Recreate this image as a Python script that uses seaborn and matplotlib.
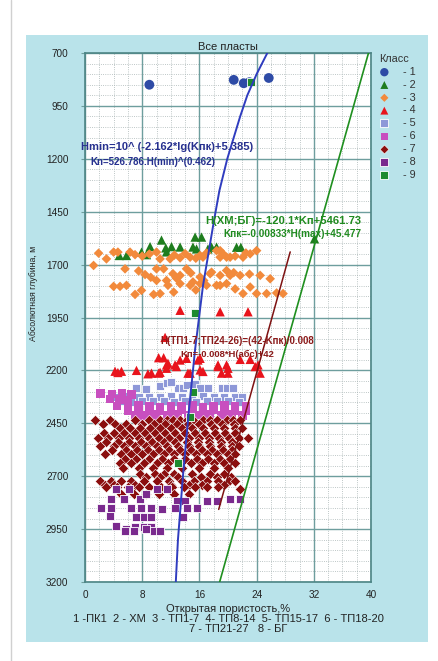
import numpy as np
import pandas as pd
import matplotlib
matplotlib.use('Agg')
import matplotlib.pyplot as plt
from matplotlib.patches import Rectangle
from matplotlib.lines import Line2D
from matplotlib.ticker import MultipleLocator
import seaborn as sns

# ---- данные (Кп, %; H, м) ----
k1 = [9.0, 20.8, 22.2, 23.0, 25.7]
h1 = [850, 827, 843, 838, 818]

k2 = [10.7, 9.1, 11.3, 12.1, 13.3, 15.4, 16.3, 15.1, 15.6, 11.4, 8.6, 4.8, 5.8,
      17.7, 18.4, 17.2, 21.2, 21.8, 7.9, 32.1]
h2 = [1584, 1615, 1621, 1615, 1617, 1570, 1570, 1617, 1626, 1640, 1653, 1657, 1657,
      1617, 1617, 1626, 1618, 1618, 1641, 1578]

k3 = [1.2, 1.9, 3.0, 4.0, 4.6, 6.3, 7.0, 10.0, 10.5, 11.9, 13.3, 14.7, 16.1, 16.5,
      18.9, 18.4, 18.9, 19.3, 19.8, 20.3, 22.1, 23.1, 24.0, 8.0, 9.0, 12.5, 14.0,
      15.5, 17.0, 21.0, 22.5,
      5.6, 8.4, 10.0, 11.0, 10.0, 11.4, 12.3, 13.3, 14.2, 15.1, 16.1, 17.5, 17.7,
      18.9, 19.8, 20.3, 21.7, 24.5, 25.9, 7.5, 9.2, 12.8, 14.8, 16.6, 20.8, 23.0,
      4.0, 4.9, 5.8, 7.0, 7.9, 9.6, 10.5, 11.6, 13.3, 14.7, 16.1, 17.0, 18.4, 18.9,
      19.8, 22.1, 23.1, 24.0, 25.4, 26.8, 27.7, 12.4, 15.5, 21.0]
h3 = [1704, 1646, 1673, 1641, 1641, 1641, 1653, 1641, 1673, 1673, 1668, 1665, 1657, 1665,
      1634, 1634, 1665, 1649, 1665, 1665, 1665, 1649, 1634, 1660, 1650, 1655, 1648,
      1670, 1645, 1660, 1645,
      1720, 1747, 1720, 1720, 1775, 1775, 1743, 1751, 1720, 1782, 1759, 1743, 1736,
      1751, 1728, 1751, 1751, 1751, 1767, 1730, 1760, 1765, 1740, 1775, 1738, 1745,
      1803, 1803, 1798, 1841, 1822, 1841, 1837, 1798, 1790, 1798, 1790, 1798, 1798, 1798,
      1790, 1837, 1806, 1837, 1837, 1834, 1837, 1830, 1820, 1815]

k4 = [13.3, 18.9, 22.8, 11.2, 10.3, 11.0, 11.4, 12.6, 13.3, 14.2, 15.8, 16.1, 18.6,
      19.8, 21.7, 23.1, 24.2, 4.2, 5.1, 7.2, 9.3, 10.3, 10.5, 11.4, 11.6, 12.8, 14.4,
      14.7, 16.1, 16.5, 18.6, 19.1, 20.0, 20.0, 23.8, 24.5, 4.6, 8.8]
h4 = [1916, 1923, 1923, 2044, 2140, 2140, 2174, 2174, 2151, 2143, 2151, 2143, 2174,
      2174, 2148, 2148, 2174, 2204, 2204, 2200, 2213, 2213, 2209, 2190, 2166, 2182, 2213,
      2213, 2198, 2205, 2182, 2213, 2190, 2213, 2182, 2213, 2210, 2216]

k5 = [7.2, 8.6, 10.5, 11.4, 13.0, 13.7, 14.2, 15.4, 16.1, 17.2, 19.1, 19.8, 20.7, 12.0,
      4.5, 6.0, 7.5, 9.0, 10.5, 12.0, 13.5, 15.0, 16.5, 18.0, 19.5, 21.0, 22.0,
      5.0, 6.5, 8.0, 9.5, 11.0, 12.5, 14.0, 15.5, 17.0, 18.5, 20.0, 21.5]
h5 = [2284, 2287, 2276, 2260, 2281, 2281, 2268, 2265, 2281, 2281, 2281, 2281, 2281, 2255,
      2325, 2322, 2328, 2324, 2326, 2322, 2327, 2325, 2323, 2326, 2324, 2328, 2325,
      2345, 2348, 2344, 2346, 2343, 2347, 2345, 2348, 2344, 2346, 2343, 2347]

k6 = [2.2, 3.8, 5.2, 6.5, 3.5, 4.8, 6.0,
      4.5, 6.0, 7.5, 9.0, 10.5, 12.0, 13.5, 15.0, 16.5, 18.0, 19.5, 21.0, 22.5,
      6.0, 7.5, 9.0, 10.5, 12.0, 13.5, 15.0, 16.5, 18.0, 19.5, 21.0, 22.5,
      7.0, 8.5, 10.0, 11.5, 13.0, 14.5, 16.0, 17.5, 19.0, 20.5, 22.0,
      7.5, 9.5, 12.0, 14.5, 17.0, 19.5]
h6 = [2310, 2312, 2308, 2314, 2335, 2338, 2340,
      2368, 2372, 2366, 2370, 2373, 2368, 2371, 2367, 2372, 2369, 2366, 2371, 2368,
      2390, 2388, 2392, 2389, 2391, 2387, 2390, 2393, 2388, 2391, 2389, 2392,
      2410, 2412, 2408, 2411, 2409, 2413, 2410, 2407, 2411, 2409, 2412,
      2428, 2430, 2426, 2431, 2427, 2429]

k7 = [1.4, 3.5, 7.0, 8.9, 10.5, 11.5, 12.3, 13.3, 14.3, 15.1, 16.5, 17.5, 18.5, 19.9, 20.7, 21.7,
      2.5, 4.2, 5.8, 8.0, 9.6, 11.2, 12.8, 14.4, 16.0, 17.6, 19.2, 20.8,
      4.9, 6.3, 7.7, 9.1, 10.5, 12.0, 13.5, 15.0, 16.5, 18.0, 19.5, 21.0, 22.0,
      2.6, 4.0, 5.5, 7.0, 8.4, 9.8, 11.2, 12.6, 14.0, 15.4, 16.8, 18.2, 19.6, 21.0,
      1.8, 3.2, 4.8, 6.2, 7.6, 9.0, 10.4, 11.8, 13.2, 14.6, 16.0, 17.4, 18.8, 20.2, 21.6, 22.8,
      3.0, 4.6, 6.2, 7.8, 9.4, 11.0, 12.6, 14.2, 15.8, 17.4, 19.0, 20.6,
      2.1, 4.0, 5.5, 7.0, 8.5, 10.0, 11.5, 13.0, 14.5, 16.0, 17.5, 19.0, 20.5, 21.5,
      3.8, 5.8, 7.3, 8.8, 10.3, 11.8, 13.3, 14.8, 16.3, 17.8, 19.3, 20.6,
      2.8, 5.0, 6.5, 8.0, 9.5, 11.0, 12.5, 14.0, 15.5, 17.0, 18.5, 20.0, 21.0,
      5.6, 7.2, 8.9, 10.7, 12.4, 14.0, 15.6, 17.2, 18.9, 20.3,
      4.9, 6.5, 8.2, 10.0, 11.6, 13.2, 14.8, 16.4, 18.0, 19.5, 21.0,
      5.3, 7.5, 9.5, 11.5, 13.5, 16.0, 18.0, 20.0,
      7.7, 9.8, 11.0, 12.5, 15.0, 17.5, 19.5,
      8.5, 10.5, 13.0, 16.2, 18.4, 20.4,
      2.1, 3.6, 5.0, 6.5, 8.2, 10.0, 11.8, 13.5, 15.2, 17.0, 18.6, 20.2, 21.0,
      2.8, 4.0, 7.0, 12.0, 14.5, 16.3, 19.5,
      3.0, 4.5, 6.0, 7.5, 9.0, 10.6, 12.2, 13.8, 15.4, 17.0, 18.6, 21.7,
      5.0, 6.8, 8.6, 10.4, 12.5, 14.5]
h7 = [2433, 2433, 2433, 2433, 2433, 2433, 2433, 2433, 2433, 2433, 2433, 2433, 2433, 2433, 2433, 2433,
      2452, 2452, 2452, 2452, 2452, 2452, 2452, 2452, 2452, 2452, 2452, 2452,
      2472, 2472, 2472, 2472, 2472, 2472, 2472, 2472, 2472, 2472, 2472, 2472, 2472,
      2495, 2495, 2495, 2495, 2495, 2495, 2495, 2495, 2495, 2495, 2495, 2495, 2495, 2495,
      2519, 2519, 2519, 2519, 2519, 2519, 2519, 2519, 2519, 2519, 2519, 2519, 2519, 2519, 2519, 2519,
      2538, 2538, 2538, 2538, 2538, 2538, 2538, 2538, 2538, 2538, 2538, 2538,
      2557, 2557, 2557, 2557, 2557, 2557, 2557, 2557, 2557, 2557, 2557, 2557, 2557, 2557,
      2578, 2578, 2578, 2578, 2578, 2578, 2578, 2578, 2578, 2578, 2578, 2578,
      2597, 2597, 2597, 2597, 2597, 2597, 2597, 2597, 2597, 2597, 2597, 2597, 2597,
      2617, 2617, 2617, 2617, 2617, 2617, 2617, 2617, 2617, 2617,
      2636, 2636, 2636, 2636, 2636, 2636, 2636, 2636, 2636, 2636, 2636,
      2660, 2660, 2660, 2660, 2660, 2660, 2660, 2660,
      2691, 2691, 2691, 2691, 2691, 2691, 2691,
      2705, 2705, 2705, 2705, 2705, 2705,
      2722, 2722, 2722, 2722, 2722, 2722, 2722, 2722, 2722, 2722, 2722, 2722, 2722,
      2740, 2740, 2740, 2740, 2740, 2740, 2740,
      2753, 2753, 2753, 2753, 2753, 2753, 2753, 2753, 2753, 2753, 2753, 2762,
      2782, 2782, 2782, 2782, 2782, 2782]

k8 = [4.4, 6.1, 3.7, 5.4, 7.7, 8.6, 10.0, 11.4, 12.8, 14.0, 17.0, 18.4, 20.3, 21.7,
      2.3, 3.7, 6.5, 7.9, 9.3, 10.7, 12.6, 14.2, 15.6, 3.5, 7.2, 8.2, 9.3, 13.7,
      4.4, 5.8, 7.0, 8.2, 9.3, 5.6, 6.8, 8.6, 9.6, 10.5]
h8 = [2762, 2762, 2809, 2809, 2809, 2785, 2762, 2762, 2817, 2817, 2817, 2817, 2809, 2809,
      2848, 2848, 2848, 2848, 2848, 2856, 2848, 2848, 2848, 2887, 2895, 2895, 2895, 2895,
      2934, 2950, 2942, 2942, 2942, 2957, 2957, 2950, 2957, 2957]

k9 = [23.2, 15.4, 15.1, 14.7, 13.0]
h9 = [838, 1927, 2300, 2420, 2636]

# линии трендов (точки)
blue_h = [700, 800, 900, 1000, 1200, 1350, 1500, 1800, 2100, 2400, 2700, 3000, 3200]
blue_k = [25.5, 24.0, 22.7, 21.7, 19.9, 18.8, 18.0, 16.5, 15.4, 14.5, 13.7, 13.0, 12.7]
green_h = [700, 3200]
green_k = [39.65, 18.83]
red_h = [1640, 2857]
red_k = [28.7, 18.7]

# ---- оформление ----
sns.set_theme(style='white')
plt.rcParams['font.family'] = ['Liberation Sans', 'DejaVu Sans']

fig = plt.figure(figsize=(4.38, 6.61), dpi=100)
fig.patch.set_facecolor('white')
W, H = 438, 661
fig.add_artist(Rectangle((26 / W, 1 - 642 / H), 402 / W, 607 / H,
                         transform=fig.transFigure, facecolor='#b9e3ea',
                         edgecolor='none', zorder=0))
fig.add_artist(Line2D([11 / W, 11 / W], [0, 1], transform=fig.transFigure,
                      color='#d0d0d0', lw=1))

ax = fig.add_axes([85 / W, 1 - 582 / H, 286 / W, 529 / H])
ax.set_facecolor('white')
ax.set_zorder(2)

classes = [
    (k1, h1, dict(marker='o', color='#2e4ba6', s=50, edgecolor='none')),
    (k2, h2, dict(marker='^', color='#1e7d1e', s=45, edgecolor='none')),
    (k3, h3, dict(marker='D', color='#f28a3c', s=24, edgecolor='none')),
    (k4, h4, dict(marker='^', color='#e8141c', s=45, edgecolor='none')),
    (k5, h5, dict(marker='s', color='#8e98d8', s=36, edgecolor='white', linewidth=0.6)),
    (k6, h6, dict(marker='s', color='#c84fbf', s=38, edgecolor='none')),
    (k7, h7, dict(marker='D', color='#8b0e0e', s=28, edgecolor='white', linewidth=0.4)),
    (k8, h8, dict(marker='s', color='#7a2a8e', s=40, edgecolor='white', linewidth=0.6)),
    (k9, h9, dict(marker='s', color='#1e8a2e', s=36, edgecolor='white', linewidth=0.6)),
]
for i, (kk, hh, kw) in enumerate(classes, start=1):
    df = pd.DataFrame({'kp': kk, 'h': hh})
    sns.scatterplot(data=df, x='kp', y='h', ax=ax, label=f' - {i}', zorder=3 + i * 0.1, **kw)

sns.lineplot(x=blue_k, y=blue_h, sort=False, ax=ax, color='#2f3cbf', lw=1.4, zorder=5, legend=False)
sns.lineplot(x=green_k, y=green_h, sort=False, ax=ax, color='#1f8f1f', lw=1.2, zorder=5, legend=False)
sns.lineplot(x=red_k, y=red_h, sort=False, ax=ax, color='#7e1212', lw=1.1, zorder=5, legend=False)

ax.set_xlim(0, 40)
ax.set_ylim(3200, 700)
ax.set_yticks(np.arange(700, 3201, 250))
ax.xaxis.set_major_locator(MultipleLocator(8))
ax.xaxis.set_minor_locator(MultipleLocator(2))
ax.yaxis.set_minor_locator(MultipleLocator(50))
ax.grid(which='major', color='#6e9e9e', lw=1.0, ls='-', zorder=0)
ax.grid(which='minor', color='#a8b4b4', lw=0.6, ls=':', zorder=0)
ax.set_axisbelow(True)
for sp in ax.spines.values():
    sp.set_color('#4d8585')
    sp.set_linewidth(1.2)
ax.tick_params(which='minor', length=0)
ax.tick_params(which='major', length=3, width=0.8, color='#6e9e9e',
               labelsize=7.2, labelcolor='#222222')
ax.tick_params(axis='y', pad=9, left=True)
ax.tick_params(axis='x', pad=3, bottom=False)
ax.set_xlabel('')
ax.set_ylabel('Абсолютная глубина, м', fontsize=6.3, color='#222222')
ax.yaxis.set_label_coords(-0.165, 0.545)
ax.set_title('Все пласты', fontsize=8, color='#222222', pad=2)

# подписи уравнений
ax.text(-0.6, 1146, 'Hmin=10^ (-2.162*lg(Kпк)+5.385)', fontsize=8, fontweight='bold',
        color='#26308f', va='center', ha='left', clip_on=False, zorder=7)
ax.text(0.7, 1217, 'Kn=526.786.H(min)^(0.462)', fontsize=7, fontweight='bold',
        color='#26308f', va='center', ha='left', zorder=7)
ax.text(16.8, 1494, 'H(ХМ;БГ)=-120.1*Kп+5461.73', fontsize=8.1, fontweight='bold',
        color='#1f8a1f', va='center', ha='left', zorder=7)
ax.text(19.3, 1555, 'Kпк=-0.00833*H(max)+45.477', fontsize=7.2, fontweight='bold',
        color='#1f8a1f', va='center', ha='left', zorder=7)
ax.text(10.5, 2063, 'H(ТП1-7;ТП24-26)=(42-Kпк)/0.008', fontsize=7, fontweight='bold',
        color='#8b1a1a', va='center', ha='left', zorder=7)
ax.text(13.3, 2124, 'Kп=-0.008*H(абс)+42', fontsize=6.8, fontweight='bold',
        color='#8b1a1a', va='center', ha='left', zorder=7)

leg = ax.legend(loc='upper left', bbox_to_anchor=(1.005, 1.01), frameon=False,
                title='Класс', fontsize=7.8, title_fontsize=7.8, labelspacing=0.26,
                handletextpad=0.9, handlelength=1.0, borderaxespad=0.2,
                alignment='left', markerscale=0.85)
for t in leg.get_texts():
    t.set_color('#333333')
leg.get_title().set_color('#333333')

fig.text(228 / W, 1 - 609 / H, 'Открытая пористость,%', fontsize=8, ha='center', va='center',
         color='#222222')
fig.text(228 / W, 1 - 619.5 / H, '1 -ПК1  2 - ХМ  3 - ТП1-7  4- ТП8-14  5- ТП15-17  6 - ТП18-20',
         fontsize=8, ha='center', va='center', color='#222222')
fig.text(238 / W, 1 - 629.5 / H, '7 - ТП21-27   8 - БГ', fontsize=8, ha='center', va='center',
         color='#222222')

fig.savefig('out.png', dpi=100, facecolor=fig.get_facecolor())
